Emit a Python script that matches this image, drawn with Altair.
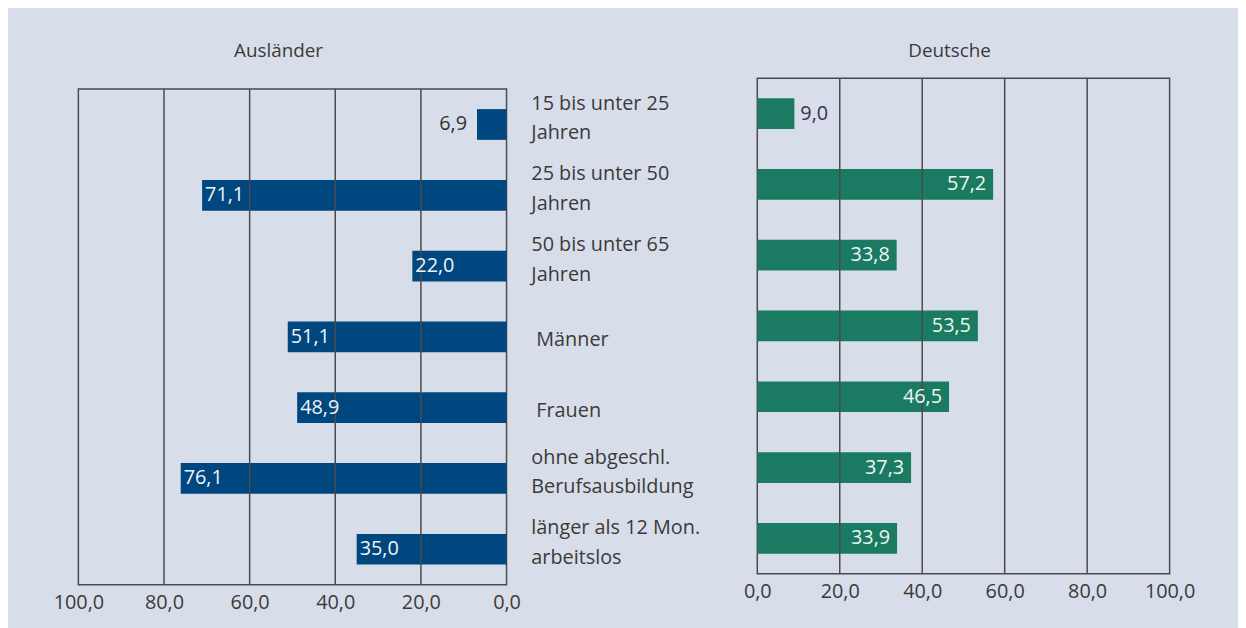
import altair as alt
import pandas as pd

categories = [
    "15 bis unter 25\nJahren",
    "25 bis unter 50\nJahren",
    "50 bis unter 65\nJahren",
    "Männer",
    "Frauen",
    "ohne abgeschl.\nBerufsausbildung",
    "länger als 12 Mon.\narbeitslos",
]
auslaender = [6.9, 71.1, 22.0, 51.1, 48.9, 76.1, 35.0]
deutsche = [9.0, 57.2, 33.8, 53.5, 46.5, 37.3, 33.9]
tick_values = [0, 20, 40, 60, 80, 100]
grid_values = [20, 40, 60, 80]

df = pd.DataFrame({"cat": categories, "aus": auslaender, "deu": deutsche})
grid_df = pd.DataFrame({"g": grid_values})

FONT = "Open Sans"
TXT = "#3a3a3a"
BLUE = "#00467f"
GREEN = "#1a7a62"
BG = "#d8dee9"
GRID = "#4a4a4a"
FS = 20
FMT = "replace(format(datum.value, '.1f'), '.', ',')"

ysc = alt.Scale(paddingInner=0.566, paddingOuter=0.283)
y = alt.Y("cat:N", sort=categories, axis=None, scale=ysc)


def xaxis():
    return alt.Axis(values=tick_values, labelExpr=FMT, grid=False, domain=False,
                    ticks=False, labelPadding=8, labelFlush=False,
                    labelFontSize=FS, labelFont=FONT, labelColor=TXT, title=None)


def panel(field, reverse, color, title, offset, inside_align, inside_dx,
          outside_align, outside_dx, outside_color, in_color):
    xs = alt.Scale(domain=[0, 100], reverse=reverse)
    x = alt.X(f"{field}:Q", scale=xs, axis=xaxis())
    base = alt.Chart(df).transform_calculate(
        t=f"replace(format(datum.{field}, '.1f'), '.', ',')")
    bars = base.mark_bar(color=color).encode(x=x, y=y)
    grid = alt.Chart(grid_df).mark_rule(color=GRID, strokeWidth=1.5).encode(
        x=alt.X("g:Q", scale=xs, axis=xaxis()))
    inside = base.transform_filter(f"datum.{field} >= 10").mark_text(
        align=inside_align, baseline="middle", dx=inside_dx, color=in_color,
        font=FONT, fontSize=FS).encode(x=x, y=y, text="t:N")
    outside = base.transform_filter(f"datum.{field} < 10").mark_text(
        align=outside_align, baseline="middle", dx=outside_dx, color=outside_color,
        font=FONT, fontSize=FS).encode(x=x, y=y, text="t:N")
    return alt.layer(bars, grid, inside, outside).properties(
        width=432 if reverse else 416, height=500,
        title=alt.TitleParams(title, offset=offset, dx=-14),
    )


def spacer():
    return alt.Chart(grid_df).mark_rule(opacity=0).encode(
        x=alt.value(0), y=alt.value(0), y2=alt.value(1)
    ).properties(width=1, height=1, view=alt.ViewBackground(stroke="transparent"))


left = panel("aus", True, BLUE, "Ausländer", 28, "left", 3, "right", -10,
             "#333333", "#eef3f8")
right = panel("deu", False, GREEN, "Deutsche", 17, "right", -7, "left", 6,
              "#3a2f55", "#eef6f2")

# ---- middle labels ----
multi = alt.Chart(df).transform_filter("indexof(datum.cat, '\\n') >= 0").mark_text(
    align="left", baseline="middle", lineBreak="\n", lineHeight=30, dy=-20,
    font=FONT, fontSize=FS, color=TXT
).encode(y=y, x=alt.value(9), text="cat:N")
single = alt.Chart(df).transform_filter("indexof(datum.cat, '\\n') < 0").mark_text(
    align="left", baseline="middle", dy=4, font=FONT, fontSize=FS, color=TXT
).encode(y=y, x=alt.value(14), text="cat:N")
mid = alt.layer(multi, single).properties(
    width=221, height=500,
    title=alt.TitleParams("Ausländer", offset=28, color="transparent"),
    view=alt.ViewBackground(stroke="transparent"),
)

chart = alt.hconcat(
    alt.vconcat(spacer(), left, spacing=0),
    alt.vconcat(spacer(), mid, spacing=0),
    alt.vconcat(spacer(), right, spacing=0),
    spacing=0,
).resolve_scale(
    x="independent", y="independent"
).properties(
    background=BG,
    padding={"left": 44, "top": 27, "right": 42, "bottom": 20},
).configure_view(
    stroke=GRID, strokeWidth=1.5
).configure_title(
    font=FONT, fontSize=19, fontWeight="normal", color=TXT, anchor="middle"
)

chart.save("out.html", embed_options={"renderer": "svg", "actions": False})
